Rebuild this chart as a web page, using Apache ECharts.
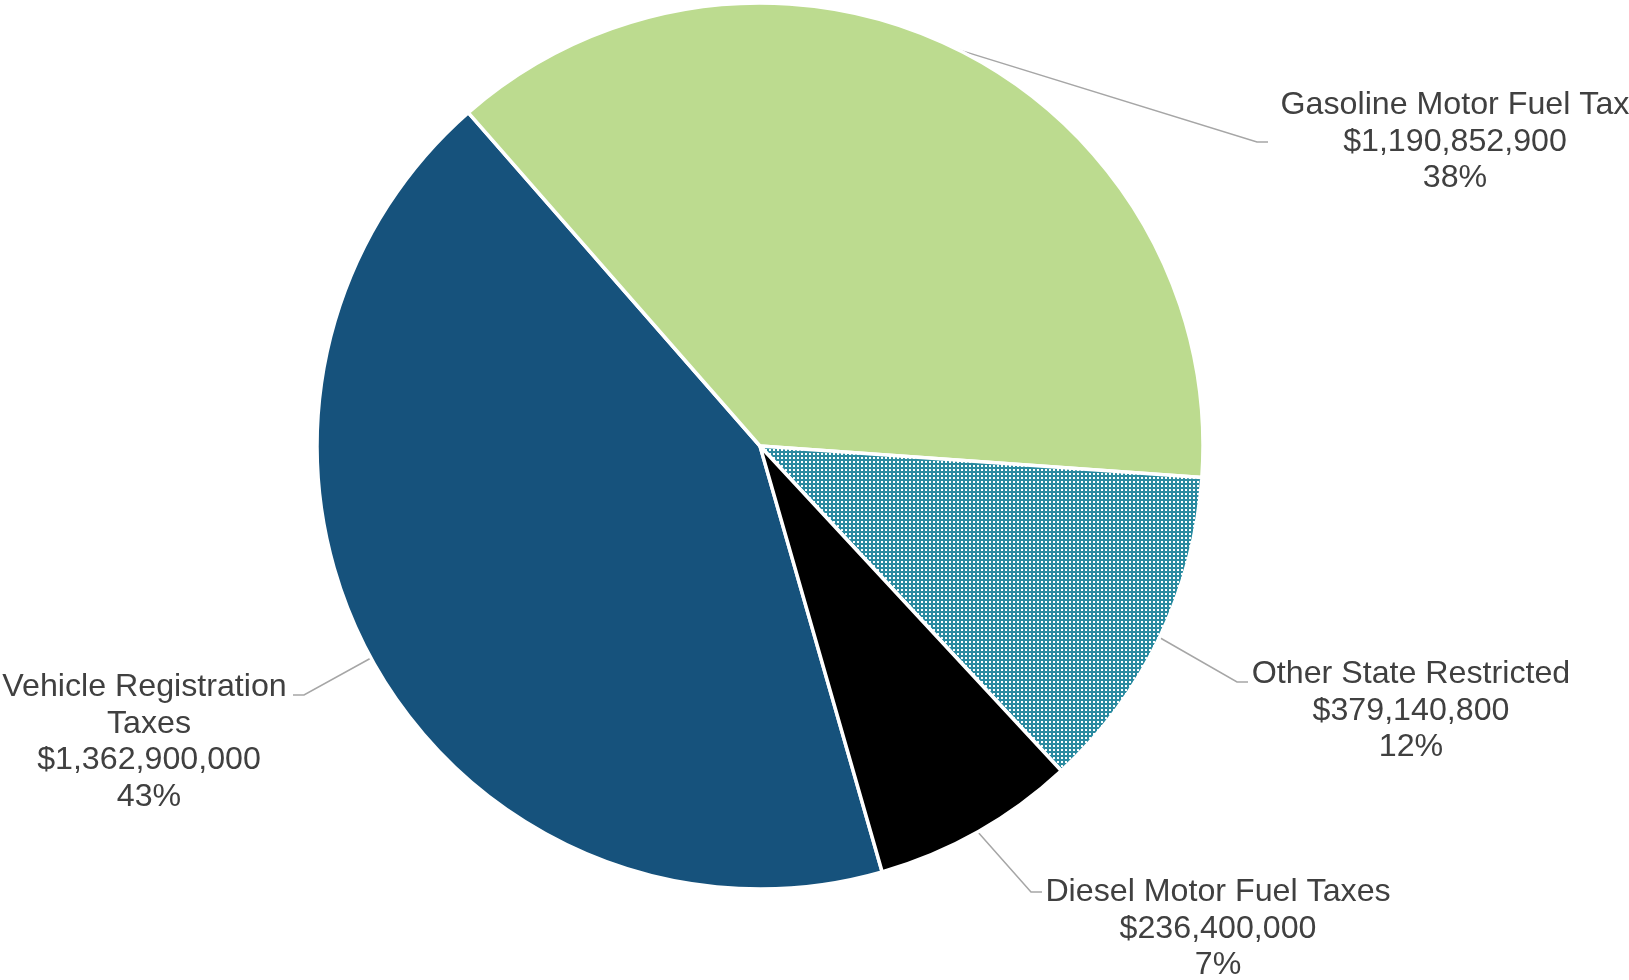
<!DOCTYPE html>
<html>
<head>
<meta charset="utf-8">
<script src="https://cdn.jsdelivr.net/npm/echarts@6/dist/echarts.min.js"></script>
<style>
html,body{margin:0;padding:0;background:#ffffff;}
#chart{width:1629px;height:980px;}
</style>
</head>
<body>
<div id="chart"></div>
<script>
// ---- data ----
const categories = ['Vehicle Registration Taxes', 'Gasoline Motor Fuel Tax', 'Other State Restricted', 'Diesel Motor Fuel Taxes'];
const revenue = [1362900000, 1190852900, 379140800, 236400000];

// ---- styling / layout (not data) ----
const TEAL = '#2a8aa0';
function dotPattern() {
  const c = document.createElement('canvas');
  c.width = 4; c.height = 4;
  const g = c.getContext('2d');
  g.fillStyle = TEAL; g.fillRect(0, 0, 4, 4);
  g.fillStyle = '#ffffff'; g.fillRect(1, 1, 2, 2);
  return c;
}
const sliceFills = ['#16527c', '#bcdb8f', { image: dotPattern(), repeat: 'repeat' }, '#000000'];
// label anchor (centre x, top y) and leader attach offset relative to anchor
const labelPlacement = [
  { x: 149,  y: 669, ax: 144,  ay: 26 },
  { x: 1455, y: 87,  ax: -187, ay: 55 },
  { x: 1411, y: 656, ax: -163, ay: 26 },
  { x: 1218, y: 874, ax: -176, ay: 18 }
];
const LEADER_TAIL = 11;

const chart = echarts.init(document.getElementById('chart'), null, { renderer: 'canvas' });

const seriesData = categories.map((name, i) => {
  const item = { name: name, value: revenue[i], itemStyle: { color: sliceFills[i] } };
  if (i === 0) item.label = { width: 300, overflow: 'break' };
  return item;
});

function fmtMoney(v) {
  return '$' + Number(v).toLocaleString('en-US');
}

chart.setOption({
  backgroundColor: '#ffffff',
  animation: false,
  series: [{
    type: 'pie',
    center: [760, 446],
    radius: [0, 443],
    startAngle: 286,
    clockwise: true,
    avoidLabelOverlap: false,
    percentPrecision: 0,
    itemStyle: { borderColor: '#ffffff', borderWidth: 3.5 },
    label: {
      show: true,
      position: 'outside',
      color: '#404040',
      fontFamily: '"Liberation Sans", Arial, sans-serif',
      fontSize: 32.2,
      lineHeight: 36.5,
      align: 'center',
      formatter: function (p) {
        return p.name + '\n' + fmtMoney(p.value) + '\n' + p.percent + '%';
      }
    },
    labelLine: {
      show: true,
      length: 20,
      length2: LEADER_TAIL,
      smooth: false,
      lineStyle: { color: '#a6a6a6', width: 1.5 }
    },
    emphasis: { disabled: true },
    labelLayout: function (p) {
      const c = labelPlacement[p.dataIndex];
      const ex = c.x + c.ax, ey = c.y + c.ay;
      const dir = c.ax > 0 ? 1 : -1;
      const res = { x: c.x, y: c.y, align: 'center', verticalAlign: 'top' };
      if (p.labelLinePoints && p.labelLinePoints[0]) {
        res.labelLinePoints = [p.labelLinePoints[0].slice(), [ex + dir * LEADER_TAIL, ey], [ex, ey]];
      }
      return res;
    },
    data: seriesData
  }]
});
</script>
</body>
</html>
